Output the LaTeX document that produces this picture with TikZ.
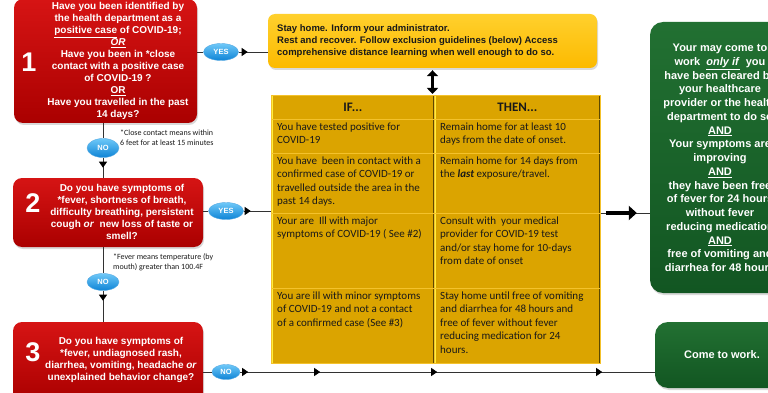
\documentclass[tikz,border=0pt]{standalone}
\usepackage{fontspec}
\setmainfont{Liberation Sans}
\newfontfamily\calibfont{Carlito}
\usetikzlibrary{shapes.geometric,arrows.meta,decorations.markings,shadows}

% colours
\definecolor{redtop}{RGB}{214,20,20}
\definecolor{redbot}{RGB}{170,0,0}
\definecolor{ambertop}{RGB}{255,208,45}
\definecolor{amberbot}{RGB}{252,186,0}
\definecolor{tblgold}{RGB}{219,164,0}
\definecolor{tbledge}{RGB}{244,194,44}
\definecolor{tbllite}{RGB}{255,238,60}
\definecolor{tbldark}{RGB}{92,72,0}
\definecolor{greentop}{RGB}{34,112,50}
\definecolor{greenbot}{RGB}{18,86,34}
\definecolor{pilltop}{RGB}{110,200,248}
\definecolor{pillbot}{RGB}{14,132,214}
\definecolor{linegray}{RGB}{50,50,50}
\definecolor{inktext}{RGB}{25,25,25}

% fonts
\newcommand\questfont{\bfseries\fontsize{10}{12}\selectfont}
\newcommand\numfont{\bfseries\fontsize{27}{30}\selectfont}
\newcommand\stayfont{\bfseries\fontsize{9.5}{12}\selectfont}
\newcommand\tablefont{\calibfont\fontsize{11}{13.5}\selectfont}
\newcommand\headfont{\calibfont\bfseries\fontsize{13}{14}\selectfont}
\newcommand\notefont{\calibfont\fontsize{8}{10}\selectfont}
\newcommand\greenfont{\bfseries\fontsize{11}{13.75}\selectfont}
\newcommand\pillfont{\bfseries\fontsize{7.5}{8}\selectfont}

\tikzset{
  qbox/.style={rectangle, rounded corners=9pt, top color=redtop, bottom color=redbot,
    draw=none, inner sep=0, drop shadow={opacity=0.3, shadow xshift=1pt, shadow yshift=-2pt}},
  qtext/.style={align=center, font=\questfont, text=white, inner sep=0},
  qnum/.style={font=\numfont, text=white, inner sep=0},
  staybox/.style={rectangle, rounded corners=7pt, top color=ambertop, bottom color=amberbot,
    draw=none, inner sep=0, drop shadow={opacity=0.3, shadow xshift=1pt, shadow yshift=-2pt}},
  gobox/.style={rectangle, rounded corners=13pt, top color=greentop, bottom color=greenbot,
    draw=none, inner sep=0, drop shadow={opacity=0.3, shadow xshift=1pt, shadow yshift=-2pt}},
  gotext/.style={align=center, font=\greenfont, text=white, inner sep=0},
  pill/.style={ellipse, minimum width=32pt, minimum height=17pt, inner sep=0,
    top color=pilltop, bottom color=pillbot, draw=pillbot!70!white, line width=0.4pt,
    font=\pillfont, text=white},
  cell/.style={rectangle, anchor=north west, inner sep=0, fill=tblgold, draw=tbledge, line width=0.8pt,
    path picture={
      \draw[tbllite, line width=3pt] (path picture bounding box.north west) -- (path picture bounding box.south west);
      \draw[tbldark, line width=3pt] (path picture bounding box.north east) -- (path picture bounding box.south east);}},
  celltxt/.style={anchor=north west, inner xsep=6pt, inner ysep=3.5pt, align=left, font=\tablefont, text=inktext},
  headtxt/.style={font=\headfont, text=inktext, inner sep=0},
  notetxt/.style={anchor=west, align=left, font=\notefont, text=inktext, inner sep=0},
  conn/.style={draw=linegray, line width=0.7pt},
  tipat/.style={postaction={decorate, decoration={markings,
    mark=at position #1 with {\arrow[black]{Triangle[length=6pt,width=8pt]}}}}},
  bigarrow/.style={black, line width=4.5pt, -{Triangle[length=8pt,width=14pt]}},
  dblarrow/.style={black, line width=3.5pt, {Triangle[length=6pt,width=11pt]}-{Triangle[length=6pt,width=11pt]}}
}

\begin{document}
\begin{tikzpicture}[x=1pt,y=-1pt]
	\useasboundingbox (0,0) rectangle (768,393);
	\clip (0,0) rectangle (768,393);
	
	% Question boxes
	\node[qbox, minimum width=183pt, minimum height=124pt] (q1) at (105.5,61) {};
	\node[qnum] (q1num) at (29,62.5) {1};
	\node[qtext] (q1txt) at (118,61) {Have you been identified by\\
		the health department as a\\
		\underline{positive case} of COVID-19;\\
		\underline{\textit{OR}}\\
		Have you been in *close\\
		contact with a positive case\\
		of COVID-19 ?\\
		\underline{OR}\\
		Have you travelled in the past\\
		14 days?};
	
	\node[qbox, minimum width=190pt, minimum height=69pt] (q2) at (108,212.5) {};
	\node[qnum] (q2num) at (33,203) {2};
	\node[qtext] (q2txt) at (122,211.5) {Do you have symptoms of\\
		*fever, shortness of breath,\\
		difficulty breathing, persistent\\
		cough \textit{or}\ \ new loss of taste or\\
		smell?};
	
	\node[qbox, minimum width=190pt, minimum height=80pt] (q3) at (108,362) {};
	\node[qnum] (q3num) at (33,352) {3};
	\node[qtext] (q3txt) at (121,359.5) {Do you have symptoms of\\
		*fever, undiagnosed rash,\\
		diarrhea, vomiting, headache \textit{or}\\
		unexplained behavior change?};
	
	% Footnotes under the questions
	\node[notetxt] (note1) at (120,138) {*Close contact means within\\6 feet for at least 15 minutes};
	\node[notetxt] (note2) at (113,262) {*Fever means temperature (by\\mouth) greater than 100.4F};
	
	% Stay home box
	\node[staybox, minimum width=329pt, minimum height=54pt] (stay) at (432.5,41) {};
	\node[anchor=west, align=left, font=\stayfont, text=inktext, inner sep=0] (staytxt) at (277,41)
		{Stay home. Inform your administrator.\\
		Rest and recover. Follow exclusion guidelines (below) Access\\
		comprehensive distance learning when well enough to do so.};
	
	% IF / THEN table
	\node[cell, minimum width=163pt, minimum height=24pt] (r0a) at (271,95) {};
	\node[cell, minimum width=166pt, minimum height=24pt] (r0b) at (434,95) {};
	\node[cell, minimum width=163pt, minimum height=34pt] (r1a) at (271,119) {};
	\node[cell, minimum width=166pt, minimum height=34pt] (r1b) at (434,119) {};
	\node[cell, minimum width=163pt, minimum height=60pt] (r2a) at (271,153) {};
	\node[cell, minimum width=166pt, minimum height=60pt] (r2b) at (434,153) {};
	\node[cell, minimum width=163pt, minimum height=75pt] (r3a) at (271,213) {};
	\node[cell, minimum width=166pt, minimum height=75pt] (r3b) at (434,213) {};
	\node[cell, minimum width=163pt, minimum height=75pt] (r4a) at (271,288) {};
	\node[cell, minimum width=166pt, minimum height=75pt] (r4b) at (434,288) {};
	
	\node[headtxt] (r0atxt) at (r0a.center) {IF...};
	\node[headtxt] (r0btxt) at (r0b.center) {THEN...};
	\node[celltxt] (r1atxt) at (r1a.north west) {You have tested positive for\\COVID-19};
	\node[celltxt] (r1btxt) at (r1b.north west) {Remain home for at least 10\\days from the date of onset.};
	\node[celltxt] (r2atxt) at (r2a.north west) {You have\ \ been in contact with a\\confirmed case of COVID-19 or\\travelled outside the area in the\\past 14 days.};
	\node[celltxt] (r2btxt) at (r2b.north west) {Remain home for 14 days from\\the \textbf{\textit{last}} exposure/travel.};
	\node[celltxt] (r3atxt) at (r3a.north west) {Your are\ \ Ill with major\\symptoms of COVID-19 ( See \#2)};
	\node[celltxt] (r3btxt) at (r3b.north west) {Consult with\ \ your medical\\provider for COVID-19 test\\and/or stay home for 10-days\\from date of onset};
	\node[celltxt] (r4atxt) at (r4a.north west) {You are ill with minor symptoms\\of COVID-19 and not a contact\\of a confirmed case (See \#3)};
	\node[celltxt] (r4btxt) at (r4b.north west) {Stay home until free of vomiting\\and diarrhea for 48 hours and\\free of fever without fever\\reducing medication for 24\\hours.};
	
	% Come to work boxes
	\node[gobox, minimum width=140pt, minimum height=271pt] (clear) at (720,157.5) {};
	\node[gotext] (cleartxt) at (720,158) {Your may come to\\
		work\ \ \underline{\textit{only if}}\ \ you\\
		have been cleared by\\
		your healthcare\\
		provider or the health\\
		department to do so\\
		\underline{AND}\\
		Your symptoms are\\
		improving\\
		\underline{AND}\\
		they have been free\\
		of fever for 24 hours\\
		without fever\\
		reducing medication\\
		\underline{AND}\\
		free of vomiting and\\
		diarrhea for 48 hours};
	
	\node[gobox, minimum width=135pt, minimum height=66pt] (come) at (722.5,355) {};
	\node[gotext] (cometxt) at (722,355) {Come to work.};
	
	% YES / NO labels
	\node[pill, minimum width=35pt] (yes1) at (221,52) {YES};
	\node[pill, minimum height=19pt] (no1) at (103,148) {NO};
	\node[pill, minimum width=35pt] (yes2) at (226,211) {YES};
	\node[pill] (no2) at (103,282) {NO};
	\node[pill, minimum width=28pt, minimum height=15pt] (no3) at (226,372) {NO};
	
	% Connectors
	\draw[conn] (q1.east |- yes1) -- (yes1.west);
	\draw[conn, tipat=9pt] (yes1.east) -- (stay.west |- yes1);
	\draw[conn] (q1.south -| no1) -- (no1.north);
	\draw[conn, tipat=10pt] (no1.south) -- (q2.north -| no1);
	\draw[conn] (q2.east |- yes2) -- (yes2.west);
	\draw[conn, tipat=7pt] (yes2.east) -- (r2a.west |- yes2);
	\draw[conn] (q2.south -| no2) -- (no2.north);
	\draw[conn, tipat=10pt] (no2.south) -- (q3.north -| no2);
	\draw[conn] (q3.east |- no3) -- (no3.west);
	\draw[conn, tipat=8pt, tipat=80pt, tipat=197pt, tipat=362pt] (no3.east) -- (come.west |- no3);
	\draw[conn] (r3b.north east) -- (clear.west |- r3b.north east);
	\draw[bigarrow, shorten <=5pt, shorten >=13pt] (r3b.north east) -- (clear.west |- r3b.north east);
	\draw[dblarrow, shorten <=2pt, shorten >=1pt] (stay.south) -- (stay.south |- r0a.north);
	
\end{tikzpicture}
\end{document}
